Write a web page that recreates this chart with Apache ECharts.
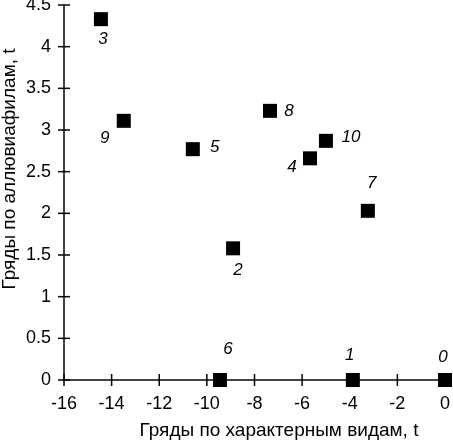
<!DOCTYPE html>
<html><head><meta charset="utf-8">
<script src="https://cdn.jsdelivr.net/npm/echarts@6/dist/echarts.min.js"></script>
<style>html,body{margin:0;padding:0;background:#fff}#c{width:453px;height:443px}</style>
</head><body><div id="c"></div>
<script>
const pointNames = ['0','1','2','3','4','5','6','7','8','9','10'];
const xValues = [0, -3.87, -8.9, -14.45, -5.67, -10.59, -9.45, -3.24, -7.35, -13.49, -5.0];
const yValues = [0, 0, 1.58, 4.33, 2.66, 2.77, 0, 2.03, 3.23, 3.11, 2.87];
const xTicks = [-16, -14, -12, -10, -8, -6, -4, -2, 0];
const yTicks = [0, 0.5, 1, 1.5, 2, 2.5, 3, 3.5, 4, 4.5];
const xTitle = 'Гряды по характерным видам, t';
const yTitle = 'Гряды по аллювиафилам, t';

// label offsets (styling only)
const labelOffsets = {
  '0': [-2, -23], '1': [-3, -25], '2': [5, 22], '3': [2, 20], '4': [-18, 9],
  '5': [22, -2], '6': [8, -31], '7': [4, -28], '8': [19, 0], '9': [-19, 17], '10': [25, -4]
};

const font = 'Liberation Sans, Arial, sans-serif';
const ink = '#050505';
const data = pointNames.map((n, i) => ({
  value: [xValues[i], yValues[i]],
  name: n,
  label: { offset: labelOffsets[n] }
}));

const chart = echarts.init(document.getElementById('c'));
const xMin = xTicks[0], xMax = xTicks[xTicks.length - 1];
const yMin = yTicks[0], yMax = yTicks[yTicks.length - 1];
chart.setOption({
  animation: false,
  grid: { left: 64, right: 8, top: 5, bottom: 63, outerBoundsMode: 'none' },
  xAxis: {
    type: 'value', min: xMin, max: xMax, interval: 2,
    axisLine: { show: false }, axisTick: { show: false },
    axisLabel: { color: '#000', fontSize: 18, fontFamily: font, margin: 15 },
    splitLine: { show: false }
  },
  yAxis: {
    type: 'value', min: yMin, max: yMax, interval: 0.5,
    axisLine: { show: false }, axisTick: { show: false },
    axisLabel: { color: '#000', fontSize: 18, fontFamily: font, margin: 13 },
    splitLine: { show: false }
  },
  series: [{
    type: 'scatter',
    symbol: 'rect', symbolSize: 14,
    itemStyle: { color: '#000', opacity: 1 },
    clip: false, z: 5,
    label: {
      show: true, position: 'inside', formatter: '{b}',
      color: '#000', fontSize: 17, fontStyle: 'italic', fontFamily: font
    },
    data: data
  }]
});

// axis lines and crossing ticks, placed through the chart's own scales
const px = (x, y) => chart.convertToPixel({ gridIndex: 0 }, [x, y]);
const o = px(xMin, yMin), xe = px(xMax, yMin), ye = px(xMin, yMax);
const lineStyle = { stroke: ink, lineWidth: 1.5 };
const els = [
  { type: 'text', x: 279, y: 431, style: { text: xTitle, font: '19px Liberation Sans, Arial, sans-serif', fill: '#000', align: 'center', verticalAlign: 'middle' } },
  { type: 'text', x: 10, y: 169, rotation: Math.PI / 2, style: { text: yTitle, font: '19px Liberation Sans, Arial, sans-serif', fill: '#000', align: 'center', verticalAlign: 'middle' } },
  { type: 'line', z: 1, shape: { x1: o[0], y1: o[1], x2: xe[0], y2: xe[1] }, style: lineStyle },
  { type: 'line', z: 1, shape: { x1: o[0], y1: o[1], x2: ye[0], y2: ye[1] }, style: lineStyle }
];
xTicks.forEach(v => {
  const p = px(v, yMin);
  els.push({ type: 'line', z: 1, shape: { x1: p[0], y1: p[1] - 6, x2: p[0], y2: p[1] + 6 }, style: lineStyle });
});
yTicks.forEach(v => {
  const p = px(xMin, v);
  els.push({ type: 'line', z: 1, shape: { x1: p[0] - 6, y1: p[1], x2: p[0] + 6, y2: p[1] }, style: lineStyle });
});
chart.setOption({ graphic: els });
</script></body></html>
